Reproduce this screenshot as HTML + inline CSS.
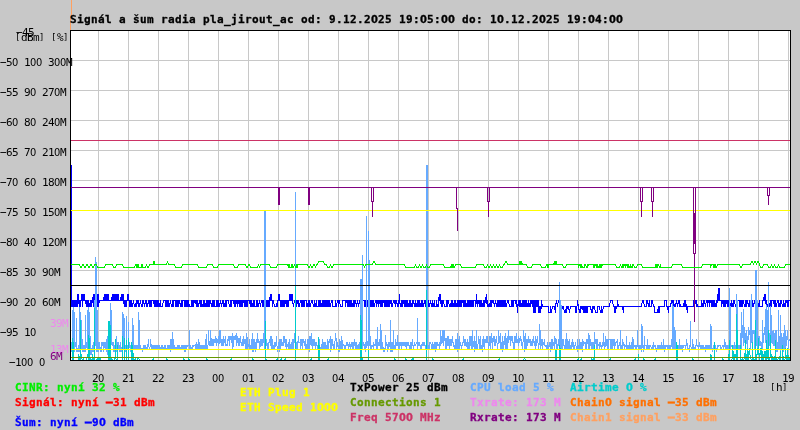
<!DOCTYPE html>
<html><head><meta charset="utf-8"><style>html,body{margin:0;padding:0;background:#c8c8c8;overflow:hidden}svg{display:block}</style></head>
<body><svg width="800" height="430" viewBox="0 0 800 430" shape-rendering="crispEdges">
<rect x="0" y="0" width="800" height="430" fill="#c8c8c8"/>
<rect x="70" y="30" width="721" height="331" fill="#fff"/>
<path d="M98.5 31V360M128.5 31V360M158.5 31V360M188.5 31V360M218.5 31V360M248.5 31V360M278.5 31V360M308.5 31V360M338.5 31V360M368.5 31V360M398.5 31V360M428.5 31V360M458.5 31V360M488.5 31V360M518.5 31V360M548.5 31V360M578.5 31V360M608.5 31V360M638.5 31V360M668.5 31V360M698.5 31V360M728.5 31V360M758.5 31V360M788.5 31V360M71 60.5H790M71 90.5H790M71 120.5H790M71 150.5H790M71 180.5H790M71 210.5H790M71 240.5H790M71 270.5H790M71 300.5H790M71 330.5H790" stroke="#c8c8c8" stroke-width="1" fill="none"/>
<defs><clipPath id="pc"><rect x="71" y="31" width="719" height="329"/></clipPath></defs><g clip-path="url(#pc)"><polyline points="71.5,165.5 71.5,306.5 71.5,300.5 72.5,300.5 72.5,306.5 73.5,300.5 73.5,306.5 74.5,300.5 74.5,306.5 75.5,300.5 75.5,306.5 76.5,300.5 76.5,306.5 77.5,294.5 77.5,306.5 78.5,294.5 78.5,300.5 79.5,306.5 79.5,300.5 80.5,306.5 80.5,306.5 81.5,294.5 81.5,300.5 82.5,294.5 82.5,306.5 83.5,294.5 83.5,300.5 84.5,294.5 84.5,300.5 85.5,300.5 86.5,306.5 86.5,300.5 87.5,306.5 87.5,300.5 88.5,300.5 88.5,306.5 89.5,306.5 90.5,300.5 90.5,306.5 91.5,300.5 91.5,306.5 92.5,300.5 92.5,300.5 93.5,294.5 93.5,306.5 94.5,294.5 94.5,306.5 95.5,294.5 95.5,306.5 96.5,294.5 96.5,306.5 97.5,294.5 97.5,306.5 98.5,294.5 98.5,306.5 99.5,300.5 103.5,300.5 104.5,294.5 104.5,300.5 105.5,294.5 105.5,300.5 106.5,294.5 106.5,300.5 107.5,294.5 107.5,300.5 108.5,294.5 108.5,300.5 111.5,300.5 112.5,294.5 112.5,300.5 113.5,294.5 113.5,300.5 114.5,294.5 114.5,300.5 115.5,294.5 115.5,300.5 116.5,294.5 116.5,300.5 117.5,294.5 117.5,300.5 118.5,294.5 118.5,300.5 120.5,300.5 121.5,294.5 121.5,300.5 122.5,294.5 122.5,300.5 123.5,294.5 123.5,300.5 124.5,306.5 124.5,300.5 125.5,300.5 125.5,306.5 126.5,300.5 126.5,306.5 127.5,294.5 127.5,300.5 128.5,294.5 128.5,300.5 129.5,300.5 129.5,306.5 130.5,306.5 130.5,300.5 131.5,306.5 131.5,300.5 132.5,306.5 132.5,306.5 133.5,300.5 133.5,300.5 134.5,306.5 135.5,306.5 136.5,300.5 136.5,306.5 137.5,300.5 137.5,300.5 138.5,306.5 138.5,300.5 139.5,306.5 139.5,306.5 140.5,300.5 140.5,300.5 141.5,306.5 142.5,306.5 142.5,300.5 143.5,300.5 144.5,306.5 144.5,306.5 145.5,300.5 145.5,300.5 146.5,306.5 146.5,300.5 147.5,306.5 147.5,306.5 148.5,300.5 148.5,300.5 149.5,306.5 149.5,300.5 150.5,306.5 150.5,300.5 151.5,306.5 151.5,300.5 153.5,300.5 154.5,306.5 154.5,300.5 155.5,306.5 155.5,300.5 156.5,300.5 156.5,306.5 157.5,306.5 157.5,300.5 158.5,306.5 158.5,300.5 159.5,306.5 159.5,306.5 160.5,300.5 160.5,306.5 162.5,306.5 163.5,300.5 165.5,300.5 165.5,306.5 166.5,300.5 166.5,306.5 167.5,300.5 167.5,306.5 168.5,306.5 168.5,300.5 169.5,306.5 169.5,306.5 170.5,300.5 170.5,300.5 171.5,306.5 172.5,306.5 172.5,300.5 173.5,306.5 173.5,300.5 175.5,300.5 175.5,306.5 176.5,300.5 176.5,306.5 177.5,306.5 177.5,300.5 178.5,306.5 178.5,300.5 179.5,300.5 180.5,306.5 180.5,306.5 181.5,300.5 181.5,306.5 182.5,306.5 182.5,300.5 184.5,300.5 184.5,306.5 185.5,306.5 185.5,300.5 186.5,300.5 186.5,306.5 187.5,306.5 187.5,300.5 188.5,306.5 188.5,300.5 189.5,306.5 191.5,306.5 191.5,300.5 192.5,306.5 192.5,300.5 193.5,300.5 193.5,306.5 194.5,300.5 195.5,300.5 196.5,306.5 196.5,300.5 197.5,300.5 197.5,306.5 198.5,306.5 199.5,300.5 199.5,300.5 200.5,306.5 200.5,300.5 201.5,306.5 201.5,300.5 202.5,306.5 203.5,306.5 203.5,300.5 204.5,300.5 204.5,306.5 205.5,306.5 206.5,300.5 206.5,306.5 207.5,306.5 207.5,300.5 208.5,300.5 208.5,306.5 209.5,306.5 209.5,300.5 210.5,300.5 211.5,306.5 211.5,306.5 212.5,300.5 212.5,306.5 213.5,306.5 213.5,300.5 214.5,300.5 214.5,306.5 216.5,306.5 216.5,300.5 217.5,300.5 217.5,306.5 218.5,300.5 218.5,306.5 219.5,306.5 220.5,300.5 220.5,300.5 221.5,306.5 221.5,306.5 222.5,300.5 222.5,300.5 223.5,306.5 223.5,300.5 224.5,306.5 224.5,306.5 225.5,300.5 225.5,306.5 226.5,306.5 226.5,300.5 228.5,300.5 229.5,306.5 230.5,306.5 230.5,300.5 231.5,306.5 231.5,300.5 233.5,300.5 234.5,306.5 234.5,300.5 235.5,300.5 235.5,306.5 236.5,300.5 236.5,300.5 237.5,306.5 237.5,300.5 238.5,300.5 239.5,306.5 239.5,300.5 240.5,306.5 240.5,300.5 241.5,306.5 241.5,300.5 242.5,300.5 242.5,306.5 243.5,300.5 244.5,300.5 244.5,306.5 245.5,300.5 245.5,306.5 246.5,306.5 246.5,300.5 247.5,306.5 247.5,300.5 249.5,300.5 250.5,306.5 250.5,300.5 251.5,306.5 251.5,300.5 252.5,306.5 252.5,306.5 253.5,300.5 253.5,306.5 254.5,300.5 254.5,306.5 256.5,306.5 256.5,300.5 257.5,306.5 257.5,300.5 258.5,306.5 258.5,306.5 259.5,300.5 259.5,300.5 260.5,306.5 260.5,306.5 261.5,300.5 262.5,300.5 262.5,306.5 263.5,300.5 263.5,306.5 264.5,300.5 264.5,306.5 265.5,300.5 265.5,306.5 266.5,306.5 266.5,300.5 267.5,306.5 267.5,300.5 268.5,300.5 268.5,306.5 269.5,306.5 269.5,300.5 270.5,294.5 270.5,300.5 271.5,294.5 271.5,300.5 272.5,300.5 272.5,306.5 273.5,300.5 273.5,300.5 274.5,306.5 276.5,306.5 277.5,300.5 277.5,306.5 278.5,294.5 278.5,300.5 279.5,294.5 279.5,300.5 280.5,300.5 280.5,306.5 281.5,300.5 281.5,306.5 282.5,306.5 282.5,300.5 283.5,300.5 283.5,306.5 284.5,300.5 284.5,306.5 285.5,300.5 285.5,300.5 286.5,306.5 286.5,300.5 287.5,306.5 287.5,300.5 288.5,300.5 288.5,306.5 289.5,294.5 289.5,300.5 290.5,294.5 290.5,300.5 291.5,294.5 291.5,300.5 292.5,294.5 292.5,300.5 293.5,306.5 293.5,306.5 294.5,300.5 295.5,300.5 296.5,306.5 296.5,300.5 297.5,300.5 298.5,306.5 298.5,300.5 299.5,306.5 299.5,306.5 300.5,300.5 301.5,300.5 301.5,306.5 302.5,300.5 302.5,306.5 303.5,306.5 303.5,300.5 304.5,306.5 304.5,300.5 306.5,300.5 306.5,306.5 307.5,306.5 308.5,300.5 308.5,306.5 309.5,300.5 309.5,306.5 310.5,306.5 311.5,300.5 312.5,300.5 313.5,306.5 314.5,306.5 314.5,300.5 315.5,306.5 315.5,306.5 316.5,300.5 316.5,306.5 318.5,306.5 318.5,300.5 319.5,306.5 319.5,300.5 320.5,306.5 320.5,300.5 321.5,306.5 321.5,306.5 322.5,300.5 322.5,306.5 323.5,306.5 323.5,300.5 324.5,306.5 324.5,300.5 325.5,306.5 325.5,300.5 326.5,300.5 326.5,306.5 327.5,306.5 327.5,300.5 328.5,300.5 328.5,306.5 329.5,306.5 329.5,300.5 330.5,306.5 330.5,306.5 331.5,300.5 332.5,300.5 332.5,306.5 335.5,306.5 335.5,300.5 336.5,306.5 336.5,306.5 337.5,300.5 338.5,300.5 338.5,306.5 339.5,300.5 339.5,300.5 340.5,306.5 342.5,306.5 342.5,300.5 345.5,300.5 345.5,306.5 346.5,300.5 347.5,300.5 347.5,306.5 348.5,300.5 348.5,306.5 349.5,300.5 349.5,306.5 350.5,300.5 350.5,306.5 351.5,300.5 351.5,306.5 352.5,306.5 353.5,300.5 353.5,306.5 354.5,306.5 354.5,300.5 355.5,300.5 356.5,306.5 356.5,306.5 357.5,300.5 357.5,300.5 358.5,306.5 358.5,306.5 359.5,300.5 359.5,300.5 360.5,306.5 360.5,300.5 361.5,300.5 361.5,306.5 362.5,306.5 362.5,300.5 364.5,300.5 364.5,306.5 365.5,300.5 365.5,306.5 366.5,306.5 366.5,300.5 367.5,306.5 367.5,300.5 368.5,300.5 368.5,306.5 369.5,300.5 370.5,300.5 370.5,306.5 371.5,300.5 371.5,306.5 372.5,300.5 372.5,306.5 373.5,300.5 373.5,306.5 374.5,306.5 375.5,300.5 376.5,300.5 376.5,306.5 377.5,300.5 377.5,300.5 378.5,306.5 378.5,300.5 379.5,300.5 380.5,306.5 380.5,300.5 381.5,306.5 381.5,300.5 382.5,300.5 382.5,306.5 383.5,300.5 384.5,300.5 384.5,306.5 385.5,306.5 385.5,300.5 386.5,306.5 386.5,300.5 387.5,306.5 387.5,300.5 388.5,306.5 388.5,300.5 389.5,300.5 389.5,306.5 390.5,300.5 390.5,300.5 391.5,306.5 391.5,300.5 392.5,306.5 392.5,306.5 393.5,300.5 394.5,300.5 395.5,306.5 395.5,300.5 396.5,300.5 397.5,306.5 397.5,306.5 398.5,300.5 398.5,306.5 399.5,294.5 399.5,300.5 400.5,306.5 400.5,306.5 401.5,300.5 401.5,306.5 402.5,306.5 402.5,300.5 403.5,300.5 404.5,306.5 404.5,300.5 405.5,300.5 405.5,306.5 406.5,306.5 406.5,300.5 407.5,300.5 407.5,306.5 408.5,306.5 409.5,300.5 409.5,306.5 410.5,300.5 410.5,306.5 411.5,306.5 412.5,300.5 412.5,306.5 413.5,300.5 413.5,300.5 414.5,306.5 414.5,306.5 415.5,300.5 415.5,306.5 416.5,306.5 417.5,300.5 417.5,306.5 418.5,306.5 418.5,300.5 419.5,306.5 419.5,300.5 420.5,306.5 420.5,306.5 421.5,300.5 421.5,306.5 422.5,306.5 422.5,300.5 423.5,306.5 423.5,306.5 424.5,300.5 424.5,300.5 425.5,306.5 425.5,300.5 426.5,300.5 426.5,306.5 427.5,306.5 427.5,300.5 428.5,300.5 428.5,306.5 429.5,306.5 430.5,300.5 430.5,300.5 431.5,306.5 431.5,306.5 432.5,300.5 432.5,306.5 433.5,306.5 434.5,300.5 434.5,306.5 436.5,306.5 436.5,300.5 437.5,306.5 438.5,306.5 438.5,300.5 439.5,294.5 439.5,300.5 440.5,294.5 440.5,300.5 441.5,306.5 441.5,300.5 442.5,300.5 442.5,306.5 443.5,300.5 443.5,300.5 444.5,306.5 446.5,306.5 446.5,300.5 447.5,300.5 447.5,306.5 448.5,300.5 448.5,300.5 449.5,306.5 450.5,306.5 451.5,300.5 451.5,306.5 452.5,306.5 452.5,300.5 453.5,306.5 453.5,306.5 454.5,300.5 454.5,306.5 455.5,306.5 455.5,300.5 456.5,306.5 456.5,306.5 457.5,300.5 457.5,306.5 458.5,306.5 458.5,300.5 459.5,306.5 459.5,300.5 460.5,306.5 460.5,300.5 461.5,300.5 461.5,306.5 462.5,300.5 463.5,300.5 463.5,306.5 464.5,300.5 464.5,306.5 465.5,300.5 465.5,306.5 466.5,306.5 467.5,300.5 467.5,306.5 468.5,300.5 468.5,306.5 469.5,306.5 469.5,300.5 470.5,306.5 470.5,300.5 471.5,300.5 471.5,306.5 472.5,300.5 472.5,306.5 473.5,306.5 473.5,300.5 475.5,300.5 475.5,306.5 476.5,294.5 476.5,300.5 477.5,306.5 477.5,300.5 478.5,300.5 479.5,306.5 479.5,300.5 480.5,300.5 480.5,306.5 481.5,306.5 481.5,300.5 482.5,306.5 482.5,306.5 483.5,300.5 483.5,306.5 484.5,300.5 484.5,306.5 485.5,300.5 485.5,300.5 486.5,294.5 486.5,300.5 487.5,306.5 487.5,300.5 488.5,306.5 489.5,306.5 490.5,300.5 490.5,306.5 491.5,300.5 491.5,306.5 492.5,300.5 493.5,300.5 494.5,306.5 494.5,306.5 495.5,300.5 495.5,300.5 496.5,306.5 496.5,306.5 497.5,300.5 497.5,306.5 498.5,300.5 498.5,306.5 499.5,306.5 499.5,300.5 500.5,300.5 500.5,306.5 501.5,306.5 501.5,300.5 502.5,306.5 502.5,300.5 503.5,300.5 503.5,306.5 504.5,300.5 504.5,306.5 505.5,306.5 505.5,300.5 506.5,306.5 506.5,306.5 507.5,300.5 508.5,300.5 509.5,306.5 511.5,306.5 511.5,300.5 512.5,300.5 512.5,306.5 513.5,306.5 513.5,300.5 515.5,300.5 516.5,306.5 516.5,300.5 517.5,306.5 517.5,312.5 518.5,300.5 518.5,300.5 519.5,306.5 519.5,300.5 520.5,300.5 520.5,306.5 521.5,306.5 522.5,300.5 522.5,306.5 523.5,300.5 523.5,306.5 524.5,306.5 524.5,300.5 525.5,306.5 525.5,300.5 526.5,306.5 526.5,300.5 527.5,306.5 527.5,306.5 528.5,300.5 528.5,306.5 529.5,306.5 530.5,300.5 530.5,306.5 531.5,300.5 531.5,300.5 532.5,306.5 532.5,300.5 533.5,300.5 533.5,312.5 534.5,300.5 534.5,312.5 535.5,300.5 535.5,312.5 536.5,300.5 536.5,306.5 537.5,300.5 537.5,306.5 538.5,300.5 538.5,312.5 539.5,306.5 539.5,312.5 540.5,306.5 540.5,312.5 541.5,306.5 541.5,300.5 542.5,306.5 548.5,306.5 548.5,312.5 550.5,312.5 550.5,306.5 551.5,312.5 551.5,312.5 552.5,306.5 554.5,306.5 555.5,312.5 555.5,306.5 556.5,300.5 556.5,300.5 557.5,306.5 557.5,306.5 558.5,300.5 559.5,300.5 560.5,306.5 561.5,306.5 561.5,312.5 562.5,306.5 563.5,306.5 564.5,312.5 565.5,312.5 566.5,306.5 566.5,312.5 567.5,306.5 568.5,306.5 569.5,312.5 569.5,312.5 570.5,306.5 575.5,306.5 575.5,312.5 576.5,312.5 577.5,300.5 577.5,300.5 578.5,306.5 578.5,306.5 579.5,312.5 579.5,312.5 580.5,306.5 580.5,312.5 581.5,306.5 582.5,306.5 583.5,312.5 583.5,306.5 584.5,306.5 584.5,312.5 585.5,312.5 585.5,306.5 586.5,306.5 586.5,312.5 587.5,312.5 587.5,306.5 590.5,306.5 591.5,312.5 591.5,312.5 592.5,306.5 592.5,312.5 593.5,306.5 594.5,306.5 595.5,312.5 597.5,312.5 597.5,306.5 599.5,306.5 600.5,312.5 601.5,312.5 601.5,306.5 602.5,312.5 602.5,312.5 603.5,306.5 609.5,306.5 610.5,300.5 612.5,300.5 613.5,306.5 614.5,306.5 614.5,312.5 615.5,306.5 615.5,312.5 616.5,306.5 617.5,306.5 617.5,300.5 618.5,306.5 622.5,306.5 623.5,312.5 623.5,306.5 641.5,306.5 642.5,300.5 643.5,300.5 644.5,306.5 646.5,306.5 646.5,300.5 647.5,300.5 648.5,306.5 648.5,306.5 649.5,300.5 649.5,306.5 651.5,306.5 651.5,300.5 652.5,300.5 653.5,306.5 654.5,306.5 654.5,312.5 657.5,312.5 658.5,306.5 658.5,312.5 659.5,312.5 659.5,306.5 664.5,306.5 664.5,300.5 666.5,300.5 666.5,306.5 667.5,306.5 668.5,312.5 668.5,306.5 670.5,306.5 671.5,300.5 671.5,300.5 672.5,306.5 672.5,300.5 673.5,306.5 673.5,300.5 674.5,306.5 675.5,306.5 676.5,300.5 676.5,300.5 677.5,306.5 677.5,306.5 678.5,300.5 678.5,300.5 679.5,306.5 679.5,300.5 680.5,306.5 683.5,306.5 684.5,300.5 684.5,306.5 685.5,306.5 685.5,300.5 686.5,306.5 686.5,306.5 687.5,312.5 687.5,306.5 693.5,306.5 693.5,300.5 694.5,300.5 694.5,306.5 695.5,300.5 695.5,300.5 696.5,306.5 696.5,300.5 697.5,306.5 701.5,306.5 701.5,300.5 702.5,306.5 702.5,306.5 703.5,300.5 703.5,306.5 704.5,300.5 704.5,300.5 705.5,306.5 705.5,306.5 706.5,300.5 707.5,300.5 707.5,306.5 708.5,300.5 709.5,300.5 709.5,306.5 710.5,300.5 711.5,300.5 711.5,306.5 712.5,300.5 712.5,306.5 713.5,300.5 713.5,306.5 714.5,300.5 714.5,306.5 715.5,306.5 716.5,300.5 716.5,306.5 717.5,300.5 717.5,300.5 718.5,288.5 718.5,300.5 719.5,288.5 719.5,300.5 721.5,300.5 721.5,306.5 722.5,300.5 722.5,300.5 723.5,306.5 723.5,300.5 724.5,306.5 724.5,300.5 725.5,300.5 725.5,306.5 726.5,300.5 726.5,300.5 727.5,306.5 727.5,300.5 728.5,306.5 728.5,300.5 729.5,306.5 729.5,300.5 730.5,306.5 730.5,306.5 731.5,300.5 731.5,306.5 732.5,306.5 733.5,300.5 733.5,306.5 734.5,300.5 734.5,300.5 735.5,306.5 736.5,306.5 736.5,300.5 739.5,300.5 739.5,306.5 740.5,300.5 740.5,306.5 741.5,300.5 741.5,306.5 742.5,300.5 742.5,306.5 743.5,300.5 743.5,300.5 744.5,306.5 745.5,306.5 745.5,300.5 746.5,306.5 746.5,300.5 747.5,300.5 748.5,306.5 748.5,306.5 749.5,300.5 749.5,306.5 751.5,306.5 751.5,300.5 752.5,306.5 752.5,300.5 753.5,306.5 753.5,306.5 754.5,300.5 754.5,300.5 755.5,306.5 755.5,306.5 756.5,300.5 756.5,300.5 757.5,306.5 758.5,306.5 759.5,300.5 759.5,306.5 762.5,306.5 762.5,300.5 763.5,300.5 764.5,294.5 764.5,300.5 765.5,294.5 765.5,300.5 766.5,306.5 766.5,300.5 767.5,306.5 768.5,306.5 768.5,300.5 769.5,306.5 769.5,306.5 770.5,300.5 770.5,306.5 771.5,306.5 771.5,300.5 773.5,300.5 774.5,306.5 774.5,300.5 775.5,306.5 775.5,300.5 776.5,306.5 776.5,306.5 777.5,300.5 778.5,300.5 778.5,306.5 779.5,306.5 780.5,300.5 780.5,306.5 781.5,300.5 781.5,300.5 782.5,306.5 783.5,306.5 783.5,300.5 784.5,306.5 784.5,306.5 785.5,300.5 785.5,306.5 786.5,300.5 787.5,300.5 787.5,306.5 788.5,306.5 788.5,300.5 789.5,300.5" stroke="#0000ff" stroke-width="1" stroke-linecap="square" stroke-linejoin="round" fill="none"/>
<polyline points="71.5,342.5 71.5,348.5 71.5,351.5 72.5,351.5 72.5,310.5 72.5,351.5 72.5,345.5 73.5,348.5 73.5,307.5 73.5,348.5 73.5,348.5 74.5,345.5 74.5,312.5 74.5,351.5 74.5,345.5 75.5,345.5 75.5,342.5 76.5,351.5 76.5,318.5 76.5,351.5 77.5,351.5 77.5,348.5 77.5,351.5 78.5,345.5 78.5,351.5 78.5,345.5 79.5,351.5 79.5,307.5 79.5,351.5 79.5,342.5 80.5,348.5 80.5,312.5 80.5,336.5 80.5,336.5 81.5,348.5 81.5,320.5 81.5,348.5 81.5,339.5 82.5,351.5 82.5,339.5 82.5,351.5 83.5,345.5 83.5,345.5 83.5,351.5 84.5,351.5 84.5,345.5 84.5,348.5 85.5,348.5 85.5,315.5 85.5,339.5 85.5,351.5 86.5,345.5 86.5,342.5 86.5,345.5 87.5,342.5 87.5,310.5 87.5,345.5 87.5,348.5 88.5,348.5 88.5,307.5 88.5,345.5 88.5,348.5 89.5,348.5 89.5,312.5 89.5,345.5 89.5,345.5 90.5,336.5 90.5,354.5 90.5,351.5 91.5,351.5 91.5,348.5 91.5,354.5 92.5,345.5 92.5,348.5 92.5,351.5 93.5,342.5 93.5,351.5 93.5,342.5 94.5,345.5 94.5,300.5 94.5,348.5 94.5,342.5 95.5,342.5 95.5,257.5 95.5,342.5 95.5,342.5 96.5,348.5 96.5,262.5 96.5,351.5 96.5,345.5 97.5,351.5 97.5,310.5 97.5,348.5 97.5,348.5 98.5,342.5 98.5,351.5 98.5,342.5 99.5,348.5 99.5,345.5 99.5,342.5 100.5,351.5 100.5,351.5 100.5,348.5 101.5,348.5 101.5,351.5 101.5,342.5 102.5,342.5 102.5,345.5 102.5,342.5 103.5,342.5 103.5,348.5 103.5,351.5 104.5,345.5 104.5,345.5 104.5,342.5 105.5,342.5 105.5,345.5 106.5,351.5 106.5,342.5 106.5,339.5 107.5,354.5 107.5,336.5 107.5,348.5 108.5,351.5 108.5,348.5 109.5,348.5 109.5,342.5 109.5,345.5 110.5,348.5 110.5,303.5 110.5,342.5 110.5,348.5 111.5,342.5 111.5,310.5 111.5,342.5 112.5,342.5 112.5,345.5 112.5,345.5 113.5,342.5 113.5,351.5 113.5,345.5 114.5,345.5 114.5,351.5 114.5,351.5 115.5,345.5 115.5,348.5 115.5,345.5 116.5,351.5 116.5,348.5 116.5,336.5 117.5,351.5 117.5,348.5 117.5,342.5 118.5,348.5 118.5,342.5 118.5,348.5 119.5,351.5 119.5,345.5 119.5,348.5 120.5,342.5 120.5,351.5 120.5,345.5 121.5,348.5 121.5,351.5 121.5,348.5 122.5,348.5 122.5,312.5 122.5,351.5 122.5,345.5 123.5,342.5 123.5,314.5 123.5,342.5 123.5,342.5 124.5,354.5 124.5,318.5 124.5,348.5 124.5,351.5 125.5,351.5 125.5,345.5 126.5,351.5 126.5,316.5 126.5,342.5 126.5,348.5 127.5,348.5 127.5,345.5 128.5,348.5 128.5,322.5 128.5,345.5 128.5,351.5 129.5,345.5 129.5,342.5 129.5,345.5 130.5,345.5 130.5,351.5 130.5,348.5 131.5,345.5 131.5,348.5 132.5,348.5 132.5,318.5 132.5,345.5 132.5,348.5 133.5,348.5 133.5,325.5 133.5,348.5 133.5,345.5 134.5,348.5 134.5,345.5 134.5,348.5 135.5,345.5 135.5,348.5 135.5,348.5 136.5,345.5 136.5,348.5 136.5,348.5 137.5,345.5 137.5,348.5 137.5,345.5 138.5,345.5 138.5,312.5 138.5,348.5 138.5,348.5 139.5,345.5 139.5,320.5 139.5,345.5 139.5,348.5 140.5,348.5 140.5,345.5 140.5,348.5 142.5,348.5 142.5,351.5 142.5,348.5 143.5,348.5 143.5,345.5 143.5,348.5 144.5,348.5 144.5,345.5 144.5,348.5 145.5,348.5 145.5,345.5 145.5,345.5 146.5,348.5 147.5,348.5 147.5,345.5 147.5,348.5 148.5,339.5 148.5,345.5 148.5,345.5 149.5,348.5 149.5,348.5 150.5,345.5 150.5,345.5 150.5,339.5 151.5,348.5 151.5,345.5 151.5,348.5 152.5,345.5 152.5,348.5 152.5,345.5 153.5,348.5 153.5,345.5 154.5,345.5 154.5,348.5 155.5,348.5 155.5,345.5 155.5,348.5 156.5,345.5 156.5,348.5 157.5,348.5 157.5,345.5 157.5,345.5 158.5,348.5 158.5,345.5 158.5,345.5 159.5,348.5 159.5,345.5 159.5,345.5 160.5,348.5 160.5,348.5 161.5,345.5 161.5,345.5 161.5,348.5 162.5,345.5 162.5,348.5 162.5,345.5 163.5,348.5 164.5,348.5 164.5,345.5 164.5,348.5 165.5,345.5 165.5,345.5 165.5,348.5 167.5,348.5 167.5,345.5 167.5,348.5 168.5,345.5 168.5,348.5 168.5,348.5 169.5,345.5 169.5,348.5 169.5,348.5 170.5,351.5 170.5,348.5 170.5,339.5 171.5,339.5 171.5,348.5 171.5,348.5 172.5,345.5 172.5,332.5 172.5,345.5 172.5,348.5 173.5,339.5 173.5,345.5 173.5,348.5 174.5,345.5 174.5,348.5 174.5,345.5 175.5,348.5 176.5,348.5 177.5,345.5 177.5,348.5 177.5,348.5 178.5,345.5 178.5,348.5 178.5,345.5 179.5,348.5 179.5,345.5 179.5,348.5 180.5,348.5 181.5,345.5 181.5,348.5 181.5,345.5 182.5,348.5 182.5,348.5 182.5,345.5 183.5,348.5 183.5,348.5 183.5,345.5 184.5,348.5 184.5,351.5 184.5,345.5 185.5,351.5 185.5,348.5 185.5,345.5 186.5,348.5 186.5,345.5 186.5,348.5 187.5,345.5 189.5,345.5 189.5,330.5 189.5,348.5 190.5,348.5 190.5,345.5 191.5,348.5 192.5,348.5 192.5,345.5 192.5,348.5 193.5,345.5 195.5,345.5 195.5,348.5 195.5,345.5 196.5,342.5 196.5,348.5 196.5,345.5 197.5,345.5 197.5,348.5 197.5,348.5 198.5,339.5 198.5,348.5 199.5,348.5 199.5,342.5 199.5,348.5 200.5,345.5 200.5,348.5 201.5,348.5 201.5,345.5 201.5,345.5 202.5,348.5 202.5,348.5 202.5,345.5 203.5,345.5 203.5,348.5 204.5,348.5 204.5,345.5 205.5,348.5 205.5,342.5 205.5,339.5 206.5,348.5 206.5,334.5 206.5,348.5 206.5,345.5 207.5,345.5 207.5,348.5 208.5,342.5 208.5,330.5 208.5,336.5 209.5,345.5 209.5,342.5 209.5,342.5 210.5,345.5 210.5,332.5 210.5,336.5 210.5,330.5 211.5,345.5 211.5,345.5 211.5,339.5 212.5,339.5 212.5,345.5 212.5,339.5 213.5,345.5 213.5,345.5 213.5,339.5 214.5,342.5 214.5,339.5 214.5,339.5 215.5,342.5 215.5,342.5 215.5,336.5 216.5,339.5 216.5,345.5 216.5,339.5 217.5,342.5 217.5,342.5 217.5,339.5 218.5,339.5 218.5,336.5 218.5,345.5 219.5,342.5 219.5,336.5 219.5,330.5 220.5,330.5 220.5,342.5 220.5,339.5 221.5,339.5 221.5,342.5 221.5,345.5 222.5,345.5 222.5,339.5 222.5,345.5 223.5,336.5 223.5,345.5 223.5,342.5 224.5,339.5 224.5,342.5 224.5,339.5 225.5,345.5 225.5,336.5 225.5,342.5 226.5,345.5 226.5,345.5 227.5,342.5 227.5,339.5 227.5,345.5 228.5,336.5 228.5,339.5 228.5,339.5 229.5,336.5 229.5,345.5 229.5,336.5 230.5,339.5 230.5,339.5 230.5,336.5 231.5,342.5 231.5,342.5 231.5,339.5 232.5,333.5 232.5,333.5 232.5,348.5 233.5,345.5 233.5,345.5 233.5,336.5 234.5,339.5 234.5,336.5 234.5,336.5 235.5,339.5 235.5,339.5 235.5,336.5 236.5,333.5 236.5,345.5 236.5,336.5 237.5,342.5 237.5,336.5 237.5,336.5 238.5,339.5 238.5,345.5 238.5,339.5 239.5,345.5 239.5,342.5 239.5,339.5 240.5,336.5 240.5,339.5 240.5,342.5 241.5,342.5 241.5,345.5 242.5,345.5 242.5,339.5 243.5,345.5 243.5,336.5 243.5,345.5 244.5,342.5 244.5,339.5 244.5,342.5 245.5,339.5 245.5,345.5 245.5,348.5 246.5,348.5 246.5,333.5 247.5,339.5 247.5,348.5 247.5,342.5 248.5,345.5 248.5,345.5 249.5,348.5 249.5,339.5 249.5,348.5 250.5,348.5 250.5,345.5 251.5,348.5 251.5,345.5 251.5,339.5 252.5,342.5 252.5,333.5 252.5,351.5 253.5,351.5 253.5,345.5 253.5,339.5 254.5,339.5 254.5,348.5 255.5,342.5 255.5,348.5 255.5,351.5 256.5,342.5 256.5,339.5 256.5,348.5 257.5,333.5 257.5,342.5 257.5,339.5 258.5,342.5 258.5,339.5 258.5,339.5 259.5,342.5 259.5,345.5 259.5,348.5 260.5,345.5 260.5,339.5 260.5,345.5 261.5,342.5 261.5,339.5 261.5,345.5 262.5,339.5 262.5,345.5 262.5,345.5 263.5,333.5 263.5,339.5 263.5,342.5 264.5,339.5 264.5,211.5 264.5,345.5 264.5,348.5 265.5,348.5 265.5,211.5 265.5,342.5 265.5,339.5 266.5,339.5 266.5,345.5 266.5,339.5 267.5,345.5 267.5,345.5 267.5,348.5 268.5,348.5 268.5,342.5 269.5,342.5 269.5,339.5 270.5,339.5 270.5,345.5 270.5,336.5 271.5,336.5 271.5,342.5 271.5,348.5 272.5,339.5 272.5,339.5 272.5,348.5 273.5,348.5 273.5,345.5 273.5,348.5 274.5,345.5 274.5,342.5 274.5,348.5 275.5,345.5 275.5,345.5 275.5,342.5 276.5,342.5 276.5,336.5 276.5,342.5 277.5,348.5 277.5,351.5 277.5,348.5 278.5,345.5 278.5,342.5 278.5,348.5 279.5,339.5 279.5,351.5 279.5,345.5 280.5,348.5 280.5,339.5 280.5,342.5 281.5,339.5 281.5,345.5 282.5,345.5 282.5,342.5 283.5,345.5 283.5,336.5 283.5,345.5 284.5,336.5 284.5,339.5 284.5,339.5 285.5,345.5 285.5,339.5 285.5,345.5 286.5,348.5 286.5,339.5 286.5,342.5 287.5,345.5 287.5,345.5 288.5,348.5 288.5,345.5 288.5,345.5 289.5,339.5 289.5,339.5 289.5,348.5 290.5,348.5 290.5,345.5 290.5,345.5 291.5,342.5 291.5,342.5 291.5,348.5 292.5,339.5 292.5,342.5 292.5,348.5 293.5,348.5 293.5,339.5 293.5,339.5 294.5,342.5 294.5,339.5 294.5,333.5 295.5,342.5 295.5,192.5 295.5,342.5 296.5,342.5 296.5,348.5 297.5,348.5 297.5,345.5 297.5,345.5 298.5,336.5 298.5,342.5 300.5,342.5 300.5,348.5 300.5,339.5 301.5,345.5 301.5,339.5 301.5,342.5 302.5,348.5 302.5,345.5 302.5,339.5 303.5,339.5 304.5,345.5 304.5,342.5 304.5,342.5 305.5,339.5 305.5,348.5 305.5,339.5 306.5,348.5 306.5,345.5 306.5,345.5 307.5,348.5 307.5,342.5 307.5,339.5 308.5,339.5 308.5,345.5 309.5,351.5 309.5,336.5 309.5,348.5 310.5,342.5 310.5,342.5 310.5,339.5 311.5,333.5 311.5,345.5 311.5,342.5 312.5,348.5 312.5,345.5 312.5,339.5 313.5,345.5 313.5,342.5 313.5,339.5 314.5,345.5 314.5,339.5 314.5,345.5 315.5,345.5 315.5,348.5 315.5,342.5 316.5,345.5 316.5,342.5 316.5,345.5 317.5,345.5 317.5,348.5 318.5,348.5 318.5,345.5 318.5,348.5 319.5,348.5 319.5,339.5 319.5,345.5 320.5,348.5 321.5,348.5 321.5,345.5 321.5,348.5 322.5,339.5 322.5,348.5 322.5,345.5 323.5,342.5 323.5,342.5 323.5,348.5 324.5,348.5 324.5,342.5 324.5,348.5 325.5,342.5 325.5,342.5 325.5,348.5 326.5,348.5 326.5,345.5 326.5,345.5 327.5,348.5 327.5,339.5 327.5,348.5 328.5,348.5 328.5,345.5 328.5,342.5 329.5,339.5 329.5,342.5 329.5,342.5 330.5,336.5 330.5,336.5 330.5,351.5 331.5,339.5 331.5,348.5 331.5,348.5 332.5,339.5 332.5,345.5 332.5,339.5 333.5,348.5 333.5,345.5 333.5,345.5 334.5,348.5 334.5,342.5 334.5,342.5 335.5,339.5 335.5,333.5 335.5,333.5 336.5,342.5 336.5,345.5 336.5,348.5 337.5,345.5 337.5,342.5 337.5,342.5 338.5,351.5 338.5,345.5 338.5,351.5 339.5,351.5 339.5,348.5 339.5,339.5 340.5,342.5 340.5,342.5 340.5,348.5 341.5,348.5 341.5,345.5 341.5,336.5 342.5,342.5 342.5,348.5 342.5,342.5 343.5,345.5 344.5,345.5 344.5,348.5 344.5,345.5 345.5,348.5 345.5,348.5 345.5,345.5 346.5,345.5 346.5,342.5 347.5,342.5 347.5,345.5 347.5,342.5 348.5,345.5 348.5,345.5 348.5,348.5 349.5,345.5 349.5,345.5 349.5,342.5 350.5,348.5 350.5,345.5 350.5,345.5 351.5,342.5 351.5,342.5 351.5,345.5 352.5,348.5 352.5,345.5 352.5,342.5 353.5,342.5 353.5,348.5 353.5,348.5 354.5,339.5 354.5,339.5 354.5,342.5 355.5,348.5 355.5,348.5 355.5,342.5 356.5,342.5 356.5,348.5 356.5,345.5 357.5,348.5 357.5,345.5 358.5,345.5 358.5,348.5 358.5,345.5 359.5,342.5 359.5,345.5 359.5,348.5 360.5,342.5 360.5,279.5 360.5,345.5 360.5,345.5 361.5,342.5 361.5,279.5 361.5,348.5 362.5,348.5 362.5,255.5 362.5,348.5 362.5,345.5 363.5,342.5 363.5,342.5 364.5,348.5 364.5,345.5 364.5,345.5 365.5,342.5 365.5,342.5 365.5,351.5 366.5,345.5 366.5,216.5 366.5,342.5 366.5,339.5 367.5,342.5 367.5,342.5 367.5,345.5 368.5,342.5 368.5,231.5 368.5,348.5 368.5,339.5 369.5,342.5 369.5,260.5 369.5,342.5 369.5,345.5 370.5,336.5 370.5,348.5 370.5,348.5 371.5,345.5 371.5,348.5 371.5,345.5 372.5,345.5 373.5,348.5 373.5,342.5 373.5,342.5 374.5,345.5 375.5,345.5 375.5,339.5 376.5,339.5 376.5,348.5 377.5,348.5 377.5,327.5 377.5,345.5 378.5,345.5 378.5,342.5 378.5,345.5 379.5,345.5 379.5,339.5 379.5,345.5 380.5,345.5 380.5,324.5 380.5,345.5 380.5,348.5 381.5,342.5 381.5,330.5 381.5,345.5 381.5,348.5 382.5,348.5 382.5,342.5 382.5,345.5 383.5,348.5 383.5,351.5 383.5,348.5 384.5,348.5 384.5,351.5 384.5,351.5 385.5,348.5 385.5,335.5 385.5,345.5 385.5,345.5 386.5,342.5 386.5,345.5 386.5,342.5 387.5,345.5 387.5,351.5 387.5,351.5 388.5,342.5 388.5,348.5 388.5,342.5 389.5,345.5 389.5,342.5 389.5,342.5 390.5,351.5 390.5,320.5 390.5,348.5 390.5,345.5 391.5,351.5 391.5,348.5 391.5,342.5 392.5,342.5 392.5,351.5 393.5,345.5 393.5,330.5 393.5,339.5 393.5,348.5 394.5,348.5 394.5,345.5 394.5,348.5 395.5,348.5 395.5,339.5 395.5,345.5 396.5,345.5 396.5,342.5 397.5,345.5 397.5,335.5 397.5,342.5 397.5,342.5 398.5,345.5 398.5,342.5 398.5,348.5 399.5,345.5 399.5,348.5 399.5,342.5 400.5,342.5 400.5,345.5 400.5,342.5 401.5,348.5 401.5,342.5 402.5,342.5 402.5,345.5 403.5,345.5 403.5,342.5 404.5,342.5 404.5,345.5 404.5,342.5 405.5,345.5 405.5,342.5 405.5,345.5 406.5,348.5 406.5,342.5 406.5,342.5 407.5,345.5 407.5,345.5 407.5,342.5 408.5,342.5 408.5,345.5 409.5,345.5 409.5,348.5 410.5,348.5 410.5,345.5 410.5,342.5 411.5,345.5 411.5,348.5 411.5,342.5 412.5,342.5 412.5,339.5 412.5,345.5 413.5,345.5 413.5,348.5 413.5,345.5 414.5,345.5 414.5,342.5 414.5,345.5 415.5,345.5 416.5,342.5 416.5,342.5 417.5,345.5 417.5,318.5 417.5,348.5 417.5,342.5 418.5,345.5 418.5,342.5 419.5,342.5 419.5,345.5 420.5,345.5 420.5,348.5 420.5,345.5 421.5,348.5 421.5,345.5 421.5,345.5 422.5,342.5 422.5,345.5 423.5,345.5 423.5,342.5 423.5,345.5 424.5,342.5 424.5,342.5 425.5,348.5 425.5,345.5 425.5,348.5 426.5,345.5 426.5,165.5 426.5,345.5 426.5,342.5 427.5,348.5 427.5,165.5 427.5,342.5 427.5,345.5 428.5,345.5 428.5,348.5 429.5,345.5 429.5,348.5 429.5,342.5 430.5,342.5 431.5,345.5 431.5,348.5 431.5,348.5 432.5,342.5 432.5,348.5 433.5,348.5 433.5,345.5 434.5,342.5 434.5,345.5 434.5,348.5 435.5,351.5 435.5,342.5 435.5,345.5 436.5,348.5 436.5,342.5 436.5,345.5 437.5,345.5 437.5,342.5 437.5,342.5 438.5,345.5 438.5,345.5 439.5,342.5 439.5,348.5 439.5,348.5 440.5,342.5 440.5,330.5 440.5,345.5 441.5,342.5 441.5,336.5 441.5,342.5 442.5,342.5 442.5,330.5 443.5,330.5 443.5,339.5 443.5,345.5 444.5,336.5 444.5,339.5 444.5,330.5 445.5,345.5 445.5,345.5 445.5,348.5 446.5,348.5 446.5,339.5 447.5,336.5 447.5,345.5 447.5,342.5 448.5,336.5 448.5,345.5 448.5,345.5 449.5,339.5 449.5,339.5 449.5,348.5 450.5,342.5 450.5,339.5 450.5,345.5 451.5,345.5 451.5,342.5 452.5,336.5 452.5,336.5 452.5,342.5 453.5,342.5 453.5,345.5 453.5,345.5 454.5,348.5 454.5,345.5 454.5,345.5 455.5,348.5 455.5,345.5 455.5,339.5 456.5,339.5 456.5,342.5 456.5,345.5 457.5,351.5 457.5,333.5 457.5,342.5 458.5,342.5 458.5,348.5 458.5,342.5 459.5,336.5 459.5,348.5 459.5,339.5 460.5,345.5 460.5,342.5 460.5,342.5 461.5,348.5 461.5,345.5 461.5,348.5 462.5,342.5 462.5,345.5 462.5,342.5 463.5,342.5 463.5,336.5 463.5,336.5 464.5,345.5 464.5,339.5 465.5,339.5 465.5,345.5 466.5,342.5 466.5,342.5 466.5,345.5 467.5,348.5 467.5,339.5 467.5,342.5 468.5,342.5 468.5,348.5 468.5,342.5 469.5,348.5 469.5,345.5 469.5,336.5 470.5,336.5 470.5,345.5 470.5,336.5 471.5,345.5 471.5,336.5 471.5,348.5 472.5,348.5 472.5,330.5 472.5,336.5 473.5,345.5 473.5,345.5 473.5,342.5 474.5,351.5 474.5,336.5 474.5,342.5 475.5,348.5 475.5,348.5 475.5,345.5 476.5,336.5 476.5,330.5 476.5,348.5 477.5,348.5 477.5,345.5 478.5,342.5 478.5,342.5 478.5,336.5 479.5,348.5 479.5,339.5 479.5,348.5 480.5,348.5 480.5,336.5 480.5,345.5 481.5,345.5 481.5,348.5 482.5,351.5 482.5,339.5 482.5,339.5 483.5,342.5 483.5,336.5 483.5,345.5 484.5,348.5 484.5,339.5 484.5,339.5 485.5,342.5 485.5,339.5 485.5,339.5 486.5,342.5 486.5,339.5 486.5,336.5 487.5,339.5 487.5,336.5 487.5,336.5 488.5,348.5 488.5,348.5 488.5,342.5 489.5,345.5 489.5,336.5 489.5,345.5 490.5,336.5 490.5,348.5 490.5,339.5 491.5,342.5 491.5,339.5 491.5,333.5 492.5,342.5 492.5,339.5 492.5,348.5 493.5,336.5 493.5,336.5 493.5,339.5 494.5,336.5 494.5,345.5 495.5,345.5 495.5,339.5 495.5,342.5 496.5,342.5 496.5,339.5 496.5,336.5 497.5,348.5 497.5,348.5 497.5,345.5 498.5,342.5 498.5,330.5 498.5,342.5 499.5,336.5 499.5,339.5 499.5,342.5 500.5,333.5 500.5,345.5 500.5,348.5 501.5,348.5 501.5,345.5 501.5,342.5 502.5,348.5 502.5,351.5 502.5,336.5 503.5,345.5 503.5,342.5 503.5,348.5 504.5,342.5 504.5,342.5 504.5,339.5 505.5,333.5 505.5,339.5 505.5,348.5 506.5,348.5 506.5,339.5 507.5,336.5 507.5,336.5 507.5,348.5 508.5,330.5 508.5,342.5 508.5,336.5 509.5,336.5 510.5,342.5 510.5,345.5 510.5,336.5 511.5,336.5 511.5,339.5 511.5,339.5 512.5,342.5 512.5,342.5 512.5,336.5 513.5,348.5 513.5,342.5 513.5,345.5 514.5,348.5 514.5,336.5 514.5,342.5 515.5,336.5 515.5,339.5 515.5,342.5 516.5,333.5 516.5,339.5 516.5,342.5 517.5,339.5 517.5,342.5 517.5,342.5 518.5,339.5 518.5,345.5 518.5,336.5 519.5,339.5 519.5,342.5 519.5,342.5 520.5,336.5 520.5,336.5 520.5,339.5 521.5,342.5 521.5,339.5 521.5,342.5 522.5,348.5 522.5,348.5 523.5,336.5 523.5,336.5 523.5,330.5 524.5,351.5 524.5,336.5 524.5,336.5 525.5,339.5 525.5,348.5 525.5,333.5 526.5,348.5 526.5,339.5 526.5,342.5 527.5,339.5 527.5,342.5 527.5,345.5 528.5,336.5 528.5,342.5 528.5,342.5 529.5,339.5 529.5,339.5 530.5,345.5 530.5,339.5 530.5,342.5 531.5,345.5 531.5,345.5 531.5,342.5 532.5,339.5 532.5,345.5 532.5,339.5 533.5,342.5 533.5,336.5 533.5,336.5 534.5,345.5 534.5,342.5 534.5,342.5 535.5,348.5 535.5,336.5 535.5,336.5 536.5,342.5 536.5,339.5 536.5,345.5 537.5,336.5 537.5,336.5 538.5,348.5 538.5,348.5 539.5,342.5 539.5,324.5 539.5,342.5 539.5,333.5 540.5,345.5 540.5,330.5 540.5,348.5 540.5,345.5 541.5,345.5 541.5,339.5 541.5,342.5 542.5,348.5 542.5,339.5 542.5,348.5 543.5,342.5 543.5,342.5 544.5,345.5 544.5,339.5 544.5,345.5 545.5,345.5 546.5,348.5 546.5,345.5 547.5,345.5 547.5,342.5 547.5,348.5 548.5,348.5 549.5,342.5 549.5,345.5 549.5,342.5 550.5,351.5 550.5,348.5 550.5,342.5 551.5,348.5 551.5,339.5 551.5,342.5 552.5,345.5 552.5,339.5 552.5,348.5 553.5,342.5 553.5,345.5 553.5,342.5 554.5,345.5 554.5,348.5 554.5,336.5 555.5,339.5 555.5,339.5 556.5,348.5 556.5,339.5 556.5,339.5 557.5,348.5 557.5,348.5 558.5,342.5 558.5,339.5 558.5,345.5 559.5,345.5 559.5,282.5 559.5,342.5 559.5,348.5 560.5,348.5 560.5,300.5 560.5,345.5 560.5,339.5 561.5,348.5 561.5,305.5 561.5,345.5 561.5,345.5 562.5,339.5 562.5,339.5 562.5,348.5 563.5,339.5 563.5,339.5 563.5,345.5 564.5,345.5 564.5,348.5 565.5,345.5 565.5,348.5 565.5,339.5 566.5,345.5 566.5,348.5 566.5,333.5 567.5,345.5 567.5,339.5 567.5,348.5 568.5,348.5 568.5,345.5 568.5,342.5 569.5,339.5 569.5,348.5 570.5,348.5 571.5,342.5 571.5,348.5 571.5,345.5 572.5,345.5 572.5,339.5 572.5,345.5 573.5,348.5 573.5,348.5 573.5,342.5 574.5,348.5 574.5,348.5 575.5,342.5 575.5,345.5 575.5,342.5 576.5,348.5 576.5,348.5 577.5,345.5 577.5,339.5 577.5,351.5 578.5,345.5 578.5,348.5 579.5,348.5 579.5,345.5 579.5,339.5 580.5,348.5 580.5,342.5 580.5,345.5 581.5,342.5 581.5,348.5 581.5,348.5 582.5,345.5 582.5,351.5 582.5,339.5 583.5,342.5 583.5,345.5 583.5,345.5 584.5,342.5 585.5,342.5 585.5,345.5 585.5,348.5 586.5,348.5 586.5,339.5 587.5,342.5 587.5,342.5 587.5,339.5 588.5,348.5 588.5,345.5 588.5,333.5 589.5,336.5 589.5,345.5 589.5,348.5 590.5,339.5 590.5,345.5 590.5,345.5 591.5,342.5 591.5,345.5 591.5,348.5 592.5,348.5 592.5,342.5 592.5,345.5 593.5,348.5 593.5,342.5 593.5,342.5 594.5,348.5 594.5,332.5 594.5,348.5 594.5,348.5 595.5,339.5 595.5,342.5 595.5,339.5 596.5,348.5 596.5,339.5 596.5,345.5 597.5,348.5 597.5,339.5 597.5,345.5 598.5,345.5 599.5,342.5 599.5,348.5 599.5,348.5 600.5,345.5 600.5,342.5 600.5,345.5 601.5,345.5 601.5,348.5 601.5,348.5 602.5,345.5 602.5,345.5 602.5,342.5 603.5,345.5 603.5,333.5 603.5,345.5 604.5,342.5 604.5,345.5 604.5,348.5 605.5,345.5 605.5,339.5 605.5,336.5 606.5,345.5 606.5,339.5 606.5,345.5 607.5,339.5 607.5,348.5 607.5,348.5 608.5,342.5 608.5,348.5 608.5,339.5 610.5,339.5 610.5,345.5 610.5,348.5 611.5,348.5 611.5,339.5 611.5,342.5 612.5,348.5 612.5,339.5 613.5,339.5 613.5,345.5 613.5,342.5 614.5,348.5 614.5,339.5 614.5,339.5 615.5,345.5 615.5,345.5 615.5,342.5 616.5,342.5 617.5,339.5 617.5,345.5 617.5,348.5 618.5,348.5 618.5,345.5 619.5,345.5 619.5,342.5 619.5,342.5 620.5,348.5 620.5,330.5 620.5,348.5 621.5,348.5 621.5,345.5 622.5,348.5 622.5,339.5 622.5,339.5 623.5,345.5 623.5,342.5 623.5,342.5 624.5,345.5 624.5,348.5 624.5,348.5 625.5,345.5 626.5,345.5 626.5,336.5 626.5,345.5 626.5,348.5 627.5,348.5 627.5,345.5 628.5,345.5 628.5,348.5 629.5,345.5 629.5,342.5 629.5,348.5 630.5,348.5 630.5,345.5 631.5,345.5 631.5,348.5 631.5,345.5 632.5,339.5 632.5,337.5 632.5,339.5 632.5,348.5 633.5,339.5 633.5,339.5 633.5,348.5 634.5,345.5 634.5,345.5 635.5,348.5 635.5,345.5 635.5,345.5 636.5,348.5 636.5,345.5 636.5,348.5 637.5,345.5 637.5,330.5 637.5,345.5 637.5,345.5 638.5,348.5 638.5,348.5 638.5,345.5 639.5,345.5 639.5,348.5 639.5,345.5 640.5,348.5 640.5,345.5 640.5,348.5 641.5,351.5 641.5,324.5 641.5,351.5 641.5,351.5 642.5,345.5 642.5,326.5 642.5,342.5 642.5,345.5 643.5,345.5 643.5,348.5 643.5,351.5 644.5,345.5 644.5,336.5 644.5,348.5 644.5,345.5 646.5,345.5 646.5,348.5 647.5,348.5 647.5,339.5 647.5,348.5 648.5,348.5 648.5,345.5 648.5,348.5 649.5,345.5 649.5,348.5 649.5,348.5 650.5,345.5 650.5,345.5 651.5,348.5 651.5,348.5 652.5,345.5 652.5,348.5 653.5,348.5 653.5,342.5 653.5,348.5 654.5,345.5 655.5,345.5 655.5,348.5 656.5,348.5 656.5,351.5 657.5,345.5 657.5,345.5 657.5,348.5 658.5,345.5 658.5,348.5 659.5,348.5 659.5,345.5 660.5,348.5 660.5,345.5 660.5,348.5 661.5,348.5 661.5,342.5 661.5,345.5 662.5,345.5 662.5,348.5 663.5,348.5 663.5,339.5 663.5,345.5 663.5,345.5 664.5,348.5 664.5,345.5 664.5,351.5 665.5,348.5 665.5,348.5 665.5,345.5 666.5,345.5 667.5,348.5 667.5,345.5 667.5,348.5 668.5,348.5 668.5,345.5 669.5,345.5 669.5,348.5 669.5,348.5 670.5,345.5 670.5,345.5 670.5,348.5 671.5,345.5 671.5,339.5 671.5,345.5 672.5,345.5 672.5,303.5 672.5,348.5 672.5,348.5 673.5,345.5 673.5,306.5 673.5,348.5 674.5,348.5 674.5,327.5 674.5,348.5 674.5,345.5 675.5,348.5 675.5,330.5 675.5,348.5 676.5,348.5 677.5,345.5 677.5,348.5 677.5,345.5 678.5,345.5 678.5,348.5 679.5,348.5 679.5,339.5 679.5,348.5 680.5,345.5 680.5,345.5 680.5,348.5 681.5,345.5 681.5,345.5 681.5,348.5 682.5,345.5 682.5,348.5 682.5,351.5 683.5,345.5 685.5,345.5 685.5,348.5 685.5,345.5 686.5,345.5 686.5,339.5 687.5,345.5 687.5,345.5 687.5,348.5 688.5,348.5 689.5,351.5 689.5,348.5 689.5,345.5 690.5,345.5 690.5,321.5 690.5,345.5 690.5,345.5 691.5,348.5 692.5,348.5 692.5,345.5 692.5,339.5 693.5,348.5 693.5,345.5 693.5,348.5 694.5,348.5 695.5,345.5 695.5,348.5 695.5,345.5 696.5,345.5 696.5,339.5 696.5,345.5 697.5,345.5 698.5,348.5 698.5,348.5 698.5,345.5 699.5,345.5 699.5,342.5 699.5,345.5 700.5,348.5 700.5,348.5 700.5,345.5 701.5,345.5 701.5,348.5 701.5,345.5 702.5,345.5 702.5,348.5 702.5,345.5 703.5,348.5 703.5,348.5 703.5,345.5 704.5,348.5 704.5,348.5 705.5,345.5 705.5,351.5 705.5,348.5 706.5,348.5 706.5,345.5 707.5,345.5 707.5,348.5 708.5,348.5 708.5,345.5 709.5,345.5 709.5,348.5 709.5,345.5 710.5,345.5 710.5,324.5 710.5,345.5 710.5,348.5 711.5,348.5 711.5,326.5 711.5,348.5 712.5,348.5 712.5,351.5 713.5,348.5 713.5,348.5 713.5,345.5 714.5,348.5 714.5,348.5 715.5,345.5 715.5,345.5 715.5,348.5 716.5,351.5 716.5,348.5 716.5,351.5 717.5,345.5 717.5,345.5 717.5,348.5 718.5,345.5 720.5,345.5 720.5,348.5 721.5,348.5 722.5,345.5 723.5,345.5 723.5,348.5 723.5,348.5 724.5,345.5 724.5,345.5 724.5,339.5 725.5,348.5 725.5,342.5 725.5,345.5 726.5,348.5 726.5,348.5 726.5,345.5 727.5,345.5 727.5,348.5 727.5,345.5 728.5,345.5 728.5,348.5 728.5,345.5 729.5,345.5 729.5,288.5 729.5,345.5 730.5,345.5 730.5,306.5 730.5,348.5 730.5,348.5 731.5,345.5 732.5,345.5 732.5,348.5 733.5,348.5 733.5,345.5 733.5,348.5 734.5,342.5 734.5,348.5 735.5,348.5 735.5,345.5 735.5,348.5 736.5,345.5 736.5,294.5 736.5,345.5 736.5,345.5 737.5,348.5 737.5,300.5 737.5,348.5 738.5,348.5 738.5,345.5 739.5,345.5 739.5,348.5 739.5,348.5 740.5,351.5 740.5,345.5 740.5,333.5 741.5,333.5 741.5,330.5 741.5,348.5 741.5,312.5 742.5,336.5 742.5,336.5 742.5,330.5 743.5,345.5 743.5,309.5 743.5,324.5 744.5,336.5 744.5,342.5 744.5,327.5 745.5,342.5 745.5,333.5 745.5,336.5 746.5,330.5 746.5,342.5 746.5,339.5 747.5,348.5 747.5,348.5 747.5,336.5 748.5,336.5 748.5,327.5 748.5,339.5 749.5,330.5 749.5,330.5 749.5,333.5 750.5,333.5 750.5,300.5 750.5,348.5 750.5,342.5 751.5,336.5 751.5,294.5 751.5,336.5 751.5,342.5 752.5,339.5 752.5,348.5 752.5,330.5 753.5,330.5 753.5,333.5 753.5,330.5 754.5,330.5 754.5,348.5 754.5,348.5 755.5,333.5 755.5,270.5 755.5,330.5 755.5,345.5 756.5,333.5 756.5,270.5 756.5,342.5 756.5,345.5 757.5,342.5 757.5,300.5 757.5,342.5 757.5,351.5 758.5,351.5 758.5,336.5 758.5,348.5 759.5,342.5 759.5,345.5 759.5,336.5 760.5,345.5 760.5,342.5 760.5,345.5 761.5,342.5 761.5,342.5 761.5,351.5 762.5,348.5 762.5,320.5 762.5,327.5 762.5,342.5 763.5,342.5 763.5,339.5 763.5,333.5 764.5,333.5 764.5,327.5 765.5,342.5 765.5,333.5 765.5,309.5 766.5,336.5 766.5,305.5 766.5,330.5 766.5,342.5 767.5,351.5 767.5,310.5 767.5,348.5 767.5,351.5 768.5,336.5 768.5,282.5 768.5,342.5 768.5,330.5 769.5,345.5 769.5,345.5 769.5,333.5 770.5,339.5 770.5,306.5 770.5,348.5 770.5,339.5 771.5,342.5 771.5,315.5 771.5,330.5 771.5,327.5 772.5,333.5 772.5,342.5 772.5,342.5 773.5,345.5 773.5,330.5 773.5,336.5 774.5,336.5 774.5,333.5 774.5,345.5 775.5,345.5 775.5,330.5 775.5,339.5 776.5,348.5 776.5,330.5 776.5,351.5 777.5,351.5 777.5,342.5 777.5,348.5 778.5,348.5 778.5,310.5 778.5,348.5 778.5,333.5 779.5,342.5 779.5,336.5 779.5,348.5 780.5,351.5 780.5,315.5 780.5,330.5 780.5,330.5 781.5,348.5 781.5,345.5 781.5,333.5 782.5,339.5 782.5,348.5 783.5,348.5 783.5,351.5 783.5,333.5 784.5,333.5 784.5,325.5 784.5,348.5 784.5,348.5 785.5,351.5 785.5,330.5 785.5,351.5 785.5,345.5 786.5,336.5 786.5,336.5 786.5,345.5 787.5,333.5 787.5,336.5 787.5,330.5 788.5,348.5 788.5,345.5 788.5,342.5 789.5,339.5 789.5,339.5" stroke="#66aaff" stroke-width="1" stroke-linecap="square" stroke-linejoin="round" fill="none"/>
<polyline points="71.5,360.5 72.5,360.5 72.5,338.5 72.5,360.5 73.5,360.5 73.5,342.5 73.5,360.5 78.5,360.5 78.5,354.5 79.5,360.5 79.5,357.5 80.5,354.5 80.5,320.5 80.5,360.5 81.5,354.5 81.5,357.5 82.5,360.5 82.5,360.5 83.5,357.5 83.5,360.5 86.5,360.5 86.5,357.5 87.5,357.5 87.5,354.5 88.5,360.5 88.5,335.5 88.5,354.5 89.5,360.5 89.5,338.5 89.5,357.5 90.5,360.5 90.5,357.5 91.5,360.5 92.5,360.5 92.5,354.5 93.5,360.5 93.5,360.5 94.5,357.5 94.5,308.5 94.5,360.5 96.5,360.5 97.5,357.5 97.5,360.5 98.5,360.5 98.5,357.5 99.5,357.5 99.5,360.5 100.5,357.5 100.5,360.5 108.5,360.5 108.5,321.5 108.5,360.5 109.5,360.5 109.5,321.5 109.5,360.5 110.5,360.5 110.5,325.5 110.5,360.5 111.5,360.5 111.5,357.5 112.5,360.5 114.5,360.5 115.5,354.5 115.5,339.5 115.5,357.5 116.5,360.5 117.5,360.5 117.5,345.5 117.5,360.5 122.5,360.5 122.5,336.5 122.5,360.5 124.5,360.5 124.5,338.5 124.5,360.5 126.5,360.5 126.5,340.5 126.5,360.5 128.5,360.5 128.5,338.5 128.5,360.5 131.5,360.5 131.5,342.5 131.5,360.5 132.5,360.5 132.5,345.5 132.5,360.5 133.5,360.5 133.5,353.5 133.5,360.5 134.5,360.5 135.5,357.5 135.5,360.5 137.5,360.5 137.5,357.5 138.5,357.5 139.5,360.5 152.5,360.5 153.5,357.5 153.5,360.5 166.5,360.5 166.5,357.5 167.5,360.5 183.5,360.5 183.5,357.5 184.5,360.5 188.5,360.5 188.5,357.5 189.5,360.5 206.5,360.5 206.5,357.5 207.5,360.5 230.5,360.5 231.5,357.5 231.5,360.5 252.5,360.5 252.5,357.5 253.5,360.5 265.5,360.5 265.5,321.5 265.5,357.5 266.5,360.5 276.5,360.5 277.5,357.5 277.5,360.5 280.5,360.5 281.5,357.5 281.5,360.5 284.5,360.5 285.5,357.5 285.5,360.5 295.5,360.5 295.5,285.5 295.5,360.5 310.5,360.5 311.5,357.5 311.5,360.5 318.5,360.5 318.5,337.5 318.5,360.5 319.5,360.5 319.5,345.5 319.5,360.5 327.5,360.5 328.5,357.5 328.5,360.5 360.5,360.5 360.5,315.5 360.5,360.5 361.5,360.5 361.5,320.5 361.5,360.5 362.5,357.5 362.5,360.5 368.5,360.5 368.5,350.5 368.5,360.5 394.5,360.5 394.5,357.5 395.5,360.5 405.5,360.5 405.5,357.5 406.5,360.5 411.5,360.5 412.5,357.5 412.5,360.5 413.5,357.5 413.5,360.5 426.5,360.5 426.5,290.5 426.5,360.5 432.5,360.5 432.5,357.5 433.5,360.5 462.5,360.5 463.5,357.5 463.5,360.5 498.5,360.5 499.5,357.5 499.5,360.5 523.5,360.5 524.5,357.5 524.5,357.5 525.5,360.5 555.5,360.5 555.5,349.5 555.5,360.5 556.5,360.5 556.5,350.5 556.5,360.5 559.5,360.5 559.5,345.5 559.5,360.5 560.5,360.5 560.5,348.5 560.5,360.5 577.5,360.5 578.5,357.5 578.5,360.5 580.5,360.5 581.5,357.5 581.5,360.5 591.5,360.5 591.5,357.5 592.5,360.5 592.5,360.5 593.5,357.5 593.5,360.5 594.5,360.5 594.5,345.5 594.5,360.5 609.5,360.5 610.5,357.5 610.5,360.5 634.5,360.5 635.5,357.5 635.5,360.5 638.5,360.5 638.5,354.5 638.5,360.5 643.5,360.5 643.5,357.5 644.5,360.5 654.5,360.5 655.5,357.5 655.5,360.5 676.5,360.5 676.5,342.5 676.5,360.5 677.5,360.5 677.5,345.5 677.5,360.5 692.5,360.5 692.5,357.5 693.5,360.5 710.5,360.5 710.5,354.5 710.5,360.5 711.5,360.5 711.5,355.5 711.5,360.5 714.5,360.5 714.5,342.5 714.5,360.5 722.5,360.5 722.5,357.5 723.5,360.5 728.5,360.5 728.5,354.5 729.5,357.5 729.5,340.5 729.5,360.5 731.5,360.5 732.5,357.5 732.5,345.5 732.5,348.5 733.5,360.5 733.5,351.5 734.5,360.5 734.5,354.5 735.5,354.5 736.5,360.5 736.5,314.5 736.5,354.5 737.5,360.5 737.5,330.5 737.5,360.5 740.5,360.5 740.5,345.5 740.5,360.5 741.5,360.5 742.5,357.5 742.5,360.5 743.5,360.5 744.5,357.5 744.5,357.5 745.5,348.5 745.5,340.5 745.5,360.5 746.5,357.5 746.5,360.5 747.5,348.5 747.5,360.5 748.5,360.5 748.5,354.5 749.5,348.5 749.5,351.5 750.5,357.5 750.5,357.5 751.5,360.5 752.5,360.5 752.5,342.5 752.5,354.5 753.5,360.5 754.5,360.5 755.5,357.5 755.5,320.5 755.5,360.5 756.5,360.5 757.5,348.5 757.5,354.5 758.5,354.5 758.5,338.5 758.5,351.5 759.5,354.5 759.5,360.5 760.5,348.5 760.5,348.5 761.5,360.5 761.5,348.5 762.5,360.5 762.5,351.5 763.5,360.5 763.5,357.5 764.5,351.5 764.5,357.5 765.5,351.5 765.5,360.5 766.5,360.5 766.5,340.5 766.5,360.5 767.5,357.5 767.5,348.5 768.5,357.5 768.5,330.5 768.5,360.5 769.5,357.5 769.5,360.5 770.5,354.5 770.5,335.5 770.5,354.5 771.5,360.5 771.5,354.5 772.5,357.5 772.5,360.5 773.5,357.5 773.5,360.5 774.5,360.5 775.5,351.5 775.5,340.5 775.5,360.5 776.5,357.5 776.5,360.5 777.5,360.5 778.5,357.5 779.5,357.5 779.5,360.5 780.5,351.5 780.5,360.5 782.5,360.5 782.5,345.5 782.5,351.5 783.5,360.5 784.5,360.5 785.5,357.5 785.5,348.5 786.5,360.5 787.5,360.5 787.5,348.5 788.5,360.5 788.5,357.5 789.5,360.5 789.5,357.5" stroke="#00cccc" stroke-width="1" stroke-linecap="square" stroke-linejoin="round" fill="none"/>
<rect x="71" y="140" width="719" height="1" fill="#cc3366"/>
<rect x="71" y="210" width="719" height="1" fill="#ffff00"/>
<rect x="71" y="349" width="719" height="1" fill="#ffff00"/>
<rect x="71" y="357" width="719" height="1" fill="#669900"/>
<rect x="71" y="285" width="719" height="1" fill="#000000"/>
<rect x="71" y="187" width="719" height="1" fill="#800080"/>
<path d="M278 187h2v18h-2zM308 187h2v18h-2zM371 187h1v15h-1zM373 187h1v15h-1zM371 201h3v1h-3zM372 201h1v16h-1zM487 187h1v15h-1zM489 187h1v15h-1zM487 201h3v1h-3zM488 201h1v16h-1zM640 187h1v15h-1zM642 187h1v15h-1zM640 201h3v1h-3zM641 201h1v16h-1zM651 187h1v15h-1zM653 187h1v15h-1zM651 201h3v1h-3zM652 201h1v16h-1zM767 187h1v9h-1zM769 187h1v9h-1zM767 195h3v1h-3zM768 195h1v10h-1zM456 187h1v22h-1zM457 208h1v23h-1zM693 187h1v67h-1zM695 187h1v67h-1zM693 253h3v1h-3zM694 213h1v31h-1zM694 253h1v69h-1z" fill="#800080"/>
<polyline points="71.5,264.5 79.5,264.5 80.5,267.5 81.5,267.5 82.5,264.5 83.5,264.5 84.5,267.5 85.5,267.5 86.5,264.5 87.5,264.5 88.5,267.5 89.5,267.5 90.5,264.5 91.5,264.5 92.5,267.5 93.5,267.5 94.5,264.5 96.5,264.5 97.5,267.5 104.5,267.5 105.5,264.5 112.5,264.5 113.5,267.5 115.5,267.5 116.5,264.5 122.5,264.5 123.5,267.5 134.5,267.5 135.5,264.5 136.5,267.5 136.5,264.5 137.5,264.5 137.5,267.5 138.5,264.5 138.5,267.5 141.5,267.5 141.5,264.5 142.5,264.5 142.5,267.5 145.5,267.5 146.5,264.5 147.5,267.5 148.5,267.5 149.5,264.5 153.5,264.5 153.5,261.5 154.5,261.5 154.5,264.5 166.5,264.5 167.5,261.5 168.5,264.5 174.5,264.5 175.5,267.5 181.5,267.5 182.5,264.5 197.5,264.5 198.5,267.5 206.5,267.5 207.5,264.5 212.5,264.5 213.5,267.5 217.5,267.5 218.5,264.5 233.5,264.5 234.5,267.5 237.5,267.5 238.5,264.5 245.5,264.5 246.5,267.5 247.5,267.5 248.5,264.5 249.5,264.5 250.5,267.5 257.5,267.5 258.5,264.5 259.5,267.5 260.5,264.5 269.5,264.5 270.5,267.5 276.5,267.5 277.5,264.5 287.5,264.5 288.5,267.5 288.5,264.5 289.5,264.5 289.5,267.5 291.5,267.5 291.5,264.5 292.5,267.5 292.5,264.5 293.5,267.5 294.5,264.5 295.5,267.5 296.5,264.5 296.5,267.5 297.5,267.5 297.5,264.5 307.5,264.5 308.5,267.5 309.5,267.5 310.5,264.5 311.5,267.5 312.5,267.5 313.5,264.5 314.5,264.5 315.5,267.5 316.5,264.5 317.5,264.5 318.5,261.5 323.5,261.5 324.5,264.5 326.5,264.5 327.5,267.5 329.5,267.5 330.5,264.5 331.5,267.5 332.5,267.5 333.5,264.5 363.5,264.5 364.5,267.5 365.5,264.5 372.5,264.5 373.5,261.5 374.5,261.5 375.5,264.5 404.5,264.5 405.5,267.5 414.5,267.5 415.5,264.5 416.5,267.5 418.5,267.5 419.5,264.5 420.5,267.5 421.5,267.5 422.5,264.5 423.5,267.5 425.5,267.5 426.5,264.5 427.5,267.5 429.5,267.5 430.5,264.5 443.5,264.5 444.5,267.5 450.5,267.5 451.5,264.5 451.5,267.5 452.5,267.5 452.5,264.5 453.5,267.5 453.5,264.5 454.5,267.5 455.5,264.5 460.5,264.5 461.5,267.5 475.5,267.5 476.5,264.5 483.5,264.5 484.5,267.5 486.5,267.5 487.5,264.5 488.5,267.5 489.5,267.5 490.5,264.5 491.5,267.5 492.5,267.5 493.5,264.5 494.5,267.5 495.5,267.5 496.5,264.5 497.5,267.5 498.5,267.5 499.5,264.5 500.5,267.5 502.5,267.5 503.5,264.5 504.5,264.5 505.5,261.5 506.5,261.5 507.5,264.5 519.5,264.5 519.5,261.5 520.5,261.5 520.5,264.5 521.5,264.5 521.5,261.5 522.5,264.5 526.5,264.5 527.5,267.5 531.5,267.5 532.5,264.5 540.5,264.5 541.5,267.5 545.5,267.5 546.5,264.5 547.5,267.5 547.5,264.5 548.5,267.5 548.5,264.5 553.5,264.5 554.5,261.5 554.5,264.5 555.5,264.5 555.5,261.5 556.5,261.5 556.5,264.5 562.5,264.5 563.5,267.5 565.5,267.5 566.5,264.5 578.5,264.5 578.5,267.5 579.5,264.5 580.5,264.5 580.5,267.5 581.5,267.5 581.5,264.5 582.5,267.5 584.5,267.5 584.5,264.5 585.5,264.5 586.5,267.5 587.5,264.5 587.5,267.5 588.5,264.5 593.5,264.5 593.5,267.5 594.5,264.5 594.5,267.5 595.5,264.5 596.5,264.5 596.5,267.5 597.5,267.5 597.5,264.5 598.5,267.5 599.5,267.5 599.5,264.5 600.5,264.5 600.5,267.5 601.5,264.5 601.5,267.5 602.5,264.5 615.5,264.5 616.5,267.5 619.5,267.5 620.5,264.5 621.5,267.5 622.5,267.5 622.5,264.5 623.5,264.5 623.5,267.5 624.5,264.5 625.5,264.5 625.5,267.5 626.5,264.5 627.5,267.5 627.5,264.5 628.5,267.5 628.5,264.5 629.5,267.5 630.5,264.5 630.5,267.5 631.5,267.5 632.5,264.5 632.5,267.5 633.5,264.5 634.5,267.5 636.5,267.5 637.5,264.5 641.5,264.5 642.5,267.5 655.5,267.5 655.5,264.5 656.5,267.5 656.5,264.5 657.5,267.5 657.5,264.5 658.5,264.5 659.5,267.5 660.5,264.5 660.5,267.5 671.5,267.5 672.5,264.5 681.5,264.5 682.5,267.5 701.5,267.5 702.5,264.5 710.5,264.5 710.5,267.5 711.5,264.5 713.5,264.5 713.5,267.5 714.5,267.5 714.5,264.5 715.5,264.5 715.5,267.5 716.5,267.5 717.5,264.5 739.5,264.5 740.5,267.5 741.5,267.5 742.5,264.5 750.5,264.5 751.5,261.5 752.5,261.5 753.5,264.5 754.5,261.5 755.5,261.5 756.5,264.5 757.5,261.5 758.5,261.5 759.5,264.5 760.5,267.5 762.5,267.5 763.5,264.5 767.5,264.5 768.5,267.5 770.5,267.5 771.5,264.5 772.5,267.5 773.5,267.5 774.5,264.5 775.5,267.5 777.5,267.5 778.5,264.5 779.5,267.5 784.5,267.5 785.5,264.5 789.5,264.5" stroke="#00ee00" stroke-width="1" stroke-linecap="square" stroke-linejoin="round" fill="none"/></g>
<path d="M70.5 30V360.5M70 30.5H790.5V360.5H70" stroke="#000" stroke-width="1" fill="none"/>
<path d="M71 0h1v15h-1zM70 15h1v15h-1z" fill="#ffa060"/>
<g font-family="DejaVu Sans Mono, Liberation Mono, monospace" shape-rendering="auto">
<text x="70 77 84 91 98 105 112 119 126 133 140 147 154 161 168 175 182 189 196 203 210 217 224 231 238 245 252 259 266 273 280 287 294 301 308 315 322 329 336 343 350 357 364 371 378 385 392 399 406 413 420 427 434 441 448 455 462 469 476 483 490 497 504 511 518 525 532 539 546 553 560 567 574 581 588 595 602 609 616" y="23" fill="#000" font-size="11" font-weight="bold" stroke="#000" stroke-width="0.3" xml:space="preserve">Signál a šum radia pla_jirout_ac od: 9.12.2<tspan font-family="DejaVu Sans Condensed" font-stretch="condensed">0</tspan>25 19:<tspan font-family="DejaVu Sans Condensed" font-stretch="condensed">0</tspan>5:<tspan font-family="DejaVu Sans Condensed" font-stretch="condensed">0</tspan><tspan font-family="DejaVu Sans Condensed" font-stretch="condensed">0</tspan> do: 1<tspan font-family="DejaVu Sans Condensed" font-stretch="condensed">0</tspan>.12.2<tspan font-family="DejaVu Sans Condensed" font-stretch="condensed">0</tspan>25 19:<tspan font-family="DejaVu Sans Condensed" font-stretch="condensed">0</tspan>4:<tspan font-family="DejaVu Sans Condensed" font-stretch="condensed">0</tspan><tspan font-family="DejaVu Sans Condensed" font-stretch="condensed">0</tspan></text>
<text x="0 6 12 18 24 30 36 42 48 54 60 66" y="66" fill="#000" font-size="11" xml:space="preserve">−5<tspan font-family="DejaVu Sans Condensed" font-stretch="condensed">0</tspan> 1<tspan font-family="DejaVu Sans Condensed" font-stretch="condensed">0</tspan><tspan font-family="DejaVu Sans Condensed" font-stretch="condensed">0</tspan> 3<tspan font-family="DejaVu Sans Condensed" font-stretch="condensed">0</tspan><tspan font-family="DejaVu Sans Condensed" font-stretch="condensed">0</tspan>M</text>
<text x="0 6 12 18 24 30 36 42 48 54 60" y="96" fill="#000" font-size="11" xml:space="preserve">−55 9<tspan font-family="DejaVu Sans Condensed" font-stretch="condensed">0</tspan> 27<tspan font-family="DejaVu Sans Condensed" font-stretch="condensed">0</tspan>M</text>
<text x="0 6 12 18 24 30 36 42 48 54 60" y="126" fill="#000" font-size="11" xml:space="preserve">−6<tspan font-family="DejaVu Sans Condensed" font-stretch="condensed">0</tspan> 8<tspan font-family="DejaVu Sans Condensed" font-stretch="condensed">0</tspan> 24<tspan font-family="DejaVu Sans Condensed" font-stretch="condensed">0</tspan>M</text>
<text x="0 6 12 18 24 30 36 42 48 54 60" y="156" fill="#000" font-size="11" xml:space="preserve">−65 7<tspan font-family="DejaVu Sans Condensed" font-stretch="condensed">0</tspan> 21<tspan font-family="DejaVu Sans Condensed" font-stretch="condensed">0</tspan>M</text>
<text x="0 6 12 18 24 30 36 42 48 54 60" y="186" fill="#000" font-size="11" xml:space="preserve">−7<tspan font-family="DejaVu Sans Condensed" font-stretch="condensed">0</tspan> 6<tspan font-family="DejaVu Sans Condensed" font-stretch="condensed">0</tspan> 18<tspan font-family="DejaVu Sans Condensed" font-stretch="condensed">0</tspan>M</text>
<text x="0 6 12 18 24 30 36 42 48 54 60" y="216" fill="#000" font-size="11" xml:space="preserve">−75 5<tspan font-family="DejaVu Sans Condensed" font-stretch="condensed">0</tspan> 15<tspan font-family="DejaVu Sans Condensed" font-stretch="condensed">0</tspan>M</text>
<text x="0 6 12 18 24 30 36 42 48 54 60" y="246" fill="#000" font-size="11" xml:space="preserve">−8<tspan font-family="DejaVu Sans Condensed" font-stretch="condensed">0</tspan> 4<tspan font-family="DejaVu Sans Condensed" font-stretch="condensed">0</tspan> 12<tspan font-family="DejaVu Sans Condensed" font-stretch="condensed">0</tspan>M</text>
<text x="0 6 12 18 24 30 36 42 48 54" y="276" fill="#000" font-size="11" xml:space="preserve">−85 3<tspan font-family="DejaVu Sans Condensed" font-stretch="condensed">0</tspan> 9<tspan font-family="DejaVu Sans Condensed" font-stretch="condensed">0</tspan>M</text>
<text x="0 6 12 18 24 30 36 42 48 54" y="306" fill="#000" font-size="11" xml:space="preserve">−9<tspan font-family="DejaVu Sans Condensed" font-stretch="condensed">0</tspan> 2<tspan font-family="DejaVu Sans Condensed" font-stretch="condensed">0</tspan> 6<tspan font-family="DejaVu Sans Condensed" font-stretch="condensed">0</tspan>M</text>
<text x="0 6 12 18 24 30" y="336" fill="#000" font-size="11" xml:space="preserve">−95 1<tspan font-family="DejaVu Sans Condensed" font-stretch="condensed">0</tspan></text>
<text x="9 15 21 27 33 39" y="366" fill="#000" font-size="11" xml:space="preserve">−1<tspan font-family="DejaVu Sans Condensed" font-stretch="condensed">0</tspan><tspan font-family="DejaVu Sans Condensed" font-stretch="condensed">0</tspan> <tspan font-family="DejaVu Sans Condensed" font-stretch="condensed">0</tspan></text>
<text x="16 22 28" y="36" fill="#000" font-size="11" xml:space="preserve">−45</text>
<text x="15 21 27 33 39 45 51 57 63" y="39.8 41 41 41 39.8 41 39.8 41 39.8" fill="#000" font-size="11" xml:space="preserve"><tspan font-size="9">[</tspan>dBm<tspan font-size="9">]</tspan> <tspan font-size="9">[</tspan>%<tspan font-size="9">]</tspan></text>
<text x="50 56 62" y="327" fill="#ee88ee" font-size="11" xml:space="preserve">39M</text>
<text x="50 56 62" y="353" fill="#ee88ee" font-size="11" xml:space="preserve">13M</text>
<text x="50 56" y="360" fill="#800080" font-size="11" xml:space="preserve">6M</text>
<text x="92 98" y="382" fill="#000" font-size="11" xml:space="preserve">2<tspan font-family="DejaVu Sans Condensed" font-stretch="condensed">0</tspan></text>
<text x="122 128" y="382" fill="#000" font-size="11" xml:space="preserve">21</text>
<text x="152 158" y="382" fill="#000" font-size="11" xml:space="preserve">22</text>
<text x="182 188" y="382" fill="#000" font-size="11" xml:space="preserve">23</text>
<text x="212 218" y="382" fill="#000" font-size="11" xml:space="preserve"><tspan font-family="DejaVu Sans Condensed" font-stretch="condensed">0</tspan><tspan font-family="DejaVu Sans Condensed" font-stretch="condensed">0</tspan></text>
<text x="242 248" y="382" fill="#000" font-size="11" xml:space="preserve"><tspan font-family="DejaVu Sans Condensed" font-stretch="condensed">0</tspan>1</text>
<text x="272 278" y="382" fill="#000" font-size="11" xml:space="preserve"><tspan font-family="DejaVu Sans Condensed" font-stretch="condensed">0</tspan>2</text>
<text x="302 308" y="382" fill="#000" font-size="11" xml:space="preserve"><tspan font-family="DejaVu Sans Condensed" font-stretch="condensed">0</tspan>3</text>
<text x="332 338" y="382" fill="#000" font-size="11" xml:space="preserve"><tspan font-family="DejaVu Sans Condensed" font-stretch="condensed">0</tspan>4</text>
<text x="362 368" y="382" fill="#000" font-size="11" xml:space="preserve"><tspan font-family="DejaVu Sans Condensed" font-stretch="condensed">0</tspan>5</text>
<text x="392 398" y="382" fill="#000" font-size="11" xml:space="preserve"><tspan font-family="DejaVu Sans Condensed" font-stretch="condensed">0</tspan>6</text>
<text x="422 428" y="382" fill="#000" font-size="11" xml:space="preserve"><tspan font-family="DejaVu Sans Condensed" font-stretch="condensed">0</tspan>7</text>
<text x="452 458" y="382" fill="#000" font-size="11" xml:space="preserve"><tspan font-family="DejaVu Sans Condensed" font-stretch="condensed">0</tspan>8</text>
<text x="482 488" y="382" fill="#000" font-size="11" xml:space="preserve"><tspan font-family="DejaVu Sans Condensed" font-stretch="condensed">0</tspan>9</text>
<text x="512 518" y="382" fill="#000" font-size="11" xml:space="preserve">1<tspan font-family="DejaVu Sans Condensed" font-stretch="condensed">0</tspan></text>
<text x="542 548" y="382" fill="#000" font-size="11" xml:space="preserve">11</text>
<text x="572 578" y="382" fill="#000" font-size="11" xml:space="preserve">12</text>
<text x="602 608" y="382" fill="#000" font-size="11" xml:space="preserve">13</text>
<text x="632 638" y="382" fill="#000" font-size="11" xml:space="preserve">14</text>
<text x="662 668" y="382" fill="#000" font-size="11" xml:space="preserve">15</text>
<text x="692 698" y="382" fill="#000" font-size="11" xml:space="preserve">16</text>
<text x="722 728" y="382" fill="#000" font-size="11" xml:space="preserve">17</text>
<text x="752 758" y="382" fill="#000" font-size="11" xml:space="preserve">18</text>
<text x="782 788" y="382" fill="#000" font-size="11" xml:space="preserve">19</text>
<text x="770 776 782" y="389.8 391 389.8" fill="#000" font-size="11" xml:space="preserve"><tspan font-size="9">[</tspan>h<tspan font-size="9">]</tspan></text>
<text x="15 22 29 36 43 50 57 64 71 78 85 92 99 106 113" y="391" fill="#00ee00" font-size="11" font-weight="bold" stroke="#00ee00" stroke-width="0.3" xml:space="preserve">CINR: nyní 32 %</text>
<text x="15 22 29 36 43 50 57 64 71 78 85 92 99 106 113 120 127 134 141 148" y="406" fill="#ff0000" font-size="11" font-weight="bold" stroke="#ff0000" stroke-width="0.3" xml:space="preserve">Signál: nyní <tspan stroke="#ff0000" stroke-width="0.7">–</tspan>31 dBm</text>
<text x="15 22 29 36 43 50 57 64 71 78 85 92 99 106 113 120 127" y="426" fill="#0000ff" font-size="11" font-weight="bold" stroke="#0000ff" stroke-width="0.3" xml:space="preserve">Šum: nyní <tspan stroke="#0000ff" stroke-width="0.7">–</tspan>9<tspan font-family="DejaVu Sans Condensed" font-stretch="condensed">0</tspan> dBm</text>
<text x="240 247 254 261 268 275 282 289 296 303" y="396" fill="#ffff00" font-size="11" font-weight="bold" stroke="#ffff00" stroke-width="0.3" xml:space="preserve">ETH Plug 1</text>
<text x="240 247 254 261 268 275 282 289 296 303 310 317 324 331" y="411" fill="#ffff00" font-size="11" font-weight="bold" stroke="#ffff00" stroke-width="0.3" xml:space="preserve">ETH Speed 1<tspan font-family="DejaVu Sans Condensed" font-stretch="condensed">0</tspan><tspan font-family="DejaVu Sans Condensed" font-stretch="condensed">0</tspan><tspan font-family="DejaVu Sans Condensed" font-stretch="condensed">0</tspan></text>
<text x="350 357 364 371 378 385 392 399 406 413 420 427 434 441" y="391" fill="#000000" font-size="11" font-weight="bold" stroke="#000000" stroke-width="0.3" xml:space="preserve">TxPower 25 dBm</text>
<text x="350 357 364 371 378 385 392 399 406 413 420 427 434" y="406" fill="#669900" font-size="11" font-weight="bold" stroke="#669900" stroke-width="0.3" xml:space="preserve">Connections 1</text>
<text x="350 357 364 371 378 385 392 399 406 413 420 427 434" y="421" fill="#cc3366" font-size="11" font-weight="bold" stroke="#cc3366" stroke-width="0.3" xml:space="preserve">Freq 57<tspan font-family="DejaVu Sans Condensed" font-stretch="condensed">0</tspan><tspan font-family="DejaVu Sans Condensed" font-stretch="condensed">0</tspan> MHz</text>
<text x="470 477 484 491 498 505 512 519 526 533 540 547" y="391" fill="#66aaff" font-size="11" font-weight="bold" stroke="#66aaff" stroke-width="0.3" xml:space="preserve">CPU load 5 %</text>
<text x="470 477 484 491 498 505 512 519 526 533 540 547 554" y="406" fill="#ee88ee" font-size="11" font-weight="bold" stroke="#ee88ee" stroke-width="0.3" xml:space="preserve">Txrate: 173 M</text>
<text x="470 477 484 491 498 505 512 519 526 533 540 547 554" y="421" fill="#800080" font-size="11" font-weight="bold" stroke="#800080" stroke-width="0.3" xml:space="preserve">Rxrate: 173 M</text>
<text x="570 577 584 591 598 605 612 619 626 633 640" y="391" fill="#00cccc" font-size="11" font-weight="bold" stroke="#00cccc" stroke-width="0.3" xml:space="preserve">Airtime <tspan font-family="DejaVu Sans Condensed" font-stretch="condensed">0</tspan> %</text>
<text x="570 577 584 591 598 605 612 619 626 633 640 647 654 661 668 675 682 689 696 703 710" y="406" fill="#ff7000" font-size="11" font-weight="bold" stroke="#ff7000" stroke-width="0.3" xml:space="preserve">Chain<tspan font-family="DejaVu Sans Condensed" font-stretch="condensed">0</tspan> signal <tspan stroke="#ff7000" stroke-width="0.7">–</tspan>35 dBm</text>
<text x="570 577 584 591 598 605 612 619 626 633 640 647 654 661 668 675 682 689 696 703 710" y="421" fill="#ffa060" font-size="11" font-weight="bold" stroke="#ffa060" stroke-width="0.3" xml:space="preserve">Chain1 signal <tspan stroke="#ffa060" stroke-width="0.7">–</tspan>33 dBm</text>
</g>
</svg></body></html>
